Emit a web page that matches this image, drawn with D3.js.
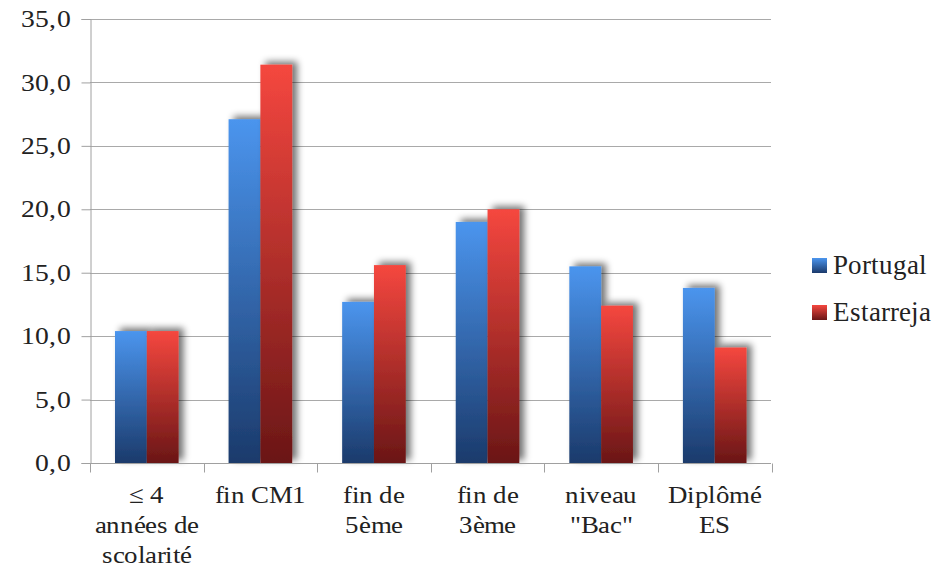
<!DOCTYPE html>
<html>
<head>
<meta charset="utf-8">
<script src="https://cdn.jsdelivr.net/npm/d3@7"></script>
<style>
  @font-face { font-family: "ChartSerif"; src: local("Liberation Serif"), local("LiberationSerif"), local("Times New Roman"); }
  body { margin: 0; background: #fff; }
  svg { display: block; }
  svg text { font-family: "ChartSerif", "Liberation Serif", "Times New Roman", serif; }
</style>
</head>
<body>
<div id="chart"></div>
<script>
var categories = [["\u2264 4", "années de", "scolarité"], ["fin CM1"], ["fin de", "5ème"], ["fin de", "3ème"], ["niveau", "\"Bac\""], ["Diplômé", "ES"]];
var series = ["Portugal", "Estarreja"];
var portugal = [10.4, 27.1, 12.7, 19.0, 15.5, 13.8];
var estarreja = [10.4, 31.4, 15.6, 20.0, 12.4, 9.1];
var yTicks = [0, 5, 10, 15, 20, 25, 30, 35];

var width = 937, height = 571;
var margin = {top: 19, right: 166, bottom: 108, left: 90};

var svg = d3.select("#chart").append("svg")
	.attr("width", width)
	.attr("height", height);
var defs = svg.append("defs");

// gradients, one per series
var colours = {
	Portugal: ["#4b95ee", "#1b3a6b"],
	Estarreja: ["#f5473f", "#6a1616"]
};
series.forEach(function (s) {
	var g = defs.append("linearGradient")
		.attr("id", "grad-" + s)
		.attr("x1", 0).attr("y1", 0)
		.attr("x2", 0).attr("y2", 1);
	g.append("stop").attr("offset", "0%").attr("stop-color", colours[s][0]);
	g.append("stop").attr("offset", "100%").attr("stop-color", colours[s][1]);
});

var shadow = defs.append("filter")
	.attr("id", "bar-shadow")
	.attr("x", "-30%").attr("y", "-10%")
	.attr("width", "170%").attr("height", "120%");
shadow.append("feGaussianBlur")
	.attr("in", "SourceAlpha")
	.attr("stdDeviation", 3.5)
	.attr("result", "blur");
shadow.append("feOffset")
	.attr("in", "blur")
	.attr("dx", 5).attr("dy", -3)
	.attr("result", "offsetBlur");
shadow.append("feComponentTransfer")
	.attr("in", "offsetBlur")
	.attr("result", "faded")
	.append("feFuncA")
	.attr("type", "linear")
	.attr("slope", 0.55);
var merge = shadow.append("feMerge");
merge.append("feMergeNode").attr("in", "faded");
merge.append("feMergeNode").attr("in", "SourceGraphic");

var x0 = margin.left, x1 = width - margin.right;
var yTop = margin.top, yBot = height - margin.bottom;

var x = d3.scaleBand()
	.domain(d3.range(categories.length))
	.range([x0, x1 + 0.5])
	.padding(0);
var xs = d3.scaleBand()
	.domain(series)
	.range([x.bandwidth() * 0.22, x.bandwidth() * 0.78])
	.padding(0);
var y = d3.scaleLinear()
	.domain([0, 35])
	.range([yBot, yTop]);

// gridlines
svg.append("g")
	.selectAll("line")
	.data(yTicks.slice(1))
	.join("line")
	.attr("x1", x0).attr("x2", x1)
	.attr("y1", function (d) { return Math.round(y(d)) + 0.5; })
	.attr("y2", function (d) { return Math.round(y(d)) + 0.5; })
	.attr("stroke", "#a9a9a9")
	.attr("stroke-width", 1);

// y axis
var yAxis = svg.append("g")
	.attr("transform", "translate(" + (x0 + 0.5) + ",0)")
	.call(d3.axisLeft(y).tickValues(yTicks).tickSize(9).tickPadding(0)
		.tickFormat(function (d) { return d3.format(".1f")(d).replace(".", ","); }));
yAxis.attr("font-family", null).attr("font-size", 24);
yAxis.select(".domain").attr("stroke", "#a0a0a0");
yAxis.selectAll(".tick line").attr("stroke", "#a0a0a0");
yAxis.selectAll(".tick text")
	.attr("fill", "#222")
	.attr("x", 0)
	.attr("transform", "translate(-20,0) scale(1.15,1)")
	.attr("dy", "0.32em");

// bars
var rows = categories.map(function (c, i) {
	return [{s: "Portugal", v: portugal[i]}, {s: "Estarreja", v: estarreja[i]}];
});
var groups = svg.append("g")
	.selectAll("g")
	.data(rows)
	.join("g")
	.attr("transform", function (d, i) { return "translate(" + x(i) + ",0)"; });
groups.selectAll("rect")
	.data(function (d) { return d; })
	.join("rect")
	.attr("x", function (d) { return xs(d.s); })
	.attr("y", function (d) { return y(d.v); })
	.attr("width", xs.bandwidth())
	.attr("height", function (d) { return y(0) - y(d.v); })
	.attr("fill", function (d) { return "url(#grad-" + d.s + ")"; })
	.attr("filter", "url(#bar-shadow)");

// x axis
var xAxis = svg.append("g")
	.attr("transform", "translate(0," + (Math.round(yBot) + 0.5) + ")");
xAxis.append("line")
	.attr("x1", x0).attr("x2", x1)
	.attr("stroke", "#a0a0a0");
xAxis.selectAll(".sep")
	.data(d3.range(categories.length + 1))
	.join("line")
	.attr("class", "sep")
	.attr("x1", function (i) { return Math.round(x0 + i * x.bandwidth()) + 0.5; })
	.attr("x2", function (i) { return Math.round(x0 + i * x.bandwidth()) + 0.5; })
	.attr("y1", 0).attr("y2", 9)
	.attr("stroke", "#a0a0a0");
var labels = xAxis.selectAll(".lab")
	.data(categories)
	.join("g")
	.attr("class", "lab")
	.attr("transform", function (d, i) { return "translate(" + (x(i) + x.bandwidth() / 2) + ",0) scale(1.12,1)"; })
	.append("text")
	.attr("text-anchor", "middle")
	.attr("font-size", 24)
	.attr("fill", "#222");
labels.each(function (lines) {
	var t = d3.select(this);
	lines.forEach(function (line, k) {
		t.append("tspan")
			.attr("x", 0)
			.attr("y", 40 + k * 30)
			.text(line);
	});
});

// legend
var legend = svg.append("g")
	.attr("transform", "translate(812,258)");
var item = legend.selectAll("g")
	.data(series)
	.join("g")
	.attr("transform", function (d, i) { return "translate(0," + i * 47 + ")"; });
item.append("rect")
	.attr("x", 0).attr("y", 0)
	.attr("width", 15).attr("height", 15)
	.attr("fill", function (d) { return "url(#grad-" + d + ")"; });
item.append("text")
	.attr("x", 21)
	.attr("y", 16)
	.attr("font-size", 27)
	.attr("fill", "#222")
	.text(function (d) { return d; });
</script>
</body>
</html>
